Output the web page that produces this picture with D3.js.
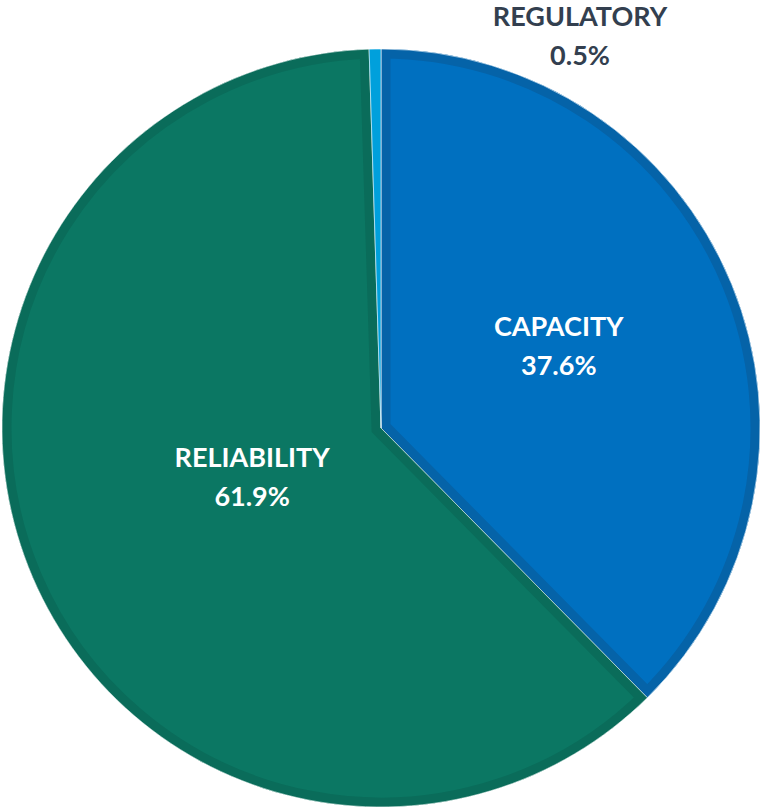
<!doctype html>
<html>
<head>
<meta charset="utf-8">
<title>Pie</title>
<script src="https://cdn.jsdelivr.net/npm/d3@7"></script>
<style>
  body { margin: 0; background: #fff; }
  text { font-family: Lato, "Open Sans", sans-serif; font-weight: bold; }
</style>
</head>
<body>
<div id="chart-area"></div>
<script>
  // data
  var categories = ['CAPACITY', 'RELIABILITY', 'REGULATORY'];
  var values = [37.6, 61.9, 0.5];
  var fills = ['#0070c0', '#0b7763', '#00a0dc'];
  var borders = ['#0563a8', '#0a6c5a', '#00a0dc'];

  var width = 761, height = 807;
  var cx = 381, cy = 428, r = 379;

  var svg = d3.select('#chart-area').append('svg')
      .attr('width', width)
      .attr('height', height);
  var g = svg.append('g')
      .attr('transform', 'translate(' + cx + ',' + cy + ')');

  var pie = d3.pie().sort(null).value(function(d) { return d; });
  var arcs = pie(values);
  var arc = d3.arc().innerRadius(0).outerRadius(r);

  var defs = svg.append('defs');
  arcs.forEach(function(d, i) {
    defs.append('clipPath').attr('id', 'clip' + i)
      .append('path').attr('d', arc(d));
  });

  var slices = g.selectAll('g.slice')
      .data(arcs)
      .enter().append('g')
      .attr('class', 'slice');
  slices.append('path')
      .attr('d', arc)
      .attr('fill', function(d, i) { return fills[i]; });
  // darker inner border of each slice
  slices.append('path')
      .attr('d', arc)
      .attr('fill', 'none')
      .attr('stroke', function(d, i) { return borders[i]; })
      .attr('stroke-width', 19)
      .attr('clip-path', function(d, i) { return 'url(#clip' + i + ')'; });
  slices.append('path')
      .attr('d', arc)
      .attr('fill', 'none')
      .attr('stroke', '#fff')
      .attr('stroke-width', 0.6);

  // labels
  var labelR = [0.507, 0.37];
  var labelDy = [-19, -16];
  function label(x, y, i, color) {
    var t = g.append('text')
        .attr('text-anchor', 'middle')
        .attr('fill', color)
        .attr('font-size', '27px');
    t.append('tspan').attr('x', x).attr('y', y).text(categories[i]);
    t.append('tspan').attr('x', x).attr('y', y + 39).text(d3.format('.1f')(values[i]) + '%');
  }
  [0, 1].forEach(function(i) {
    var c = d3.arc().innerRadius(r * labelR[i]).outerRadius(r * labelR[i]).centroid(arcs[i]);
    label(c[0], c[1] + labelDy[i], i, '#fff');
  });
  // small slice label sits outside the pie, to the upper right
  label(199, 26 - cy, 2, '#333f4f');
</script>
</body>
</html>
